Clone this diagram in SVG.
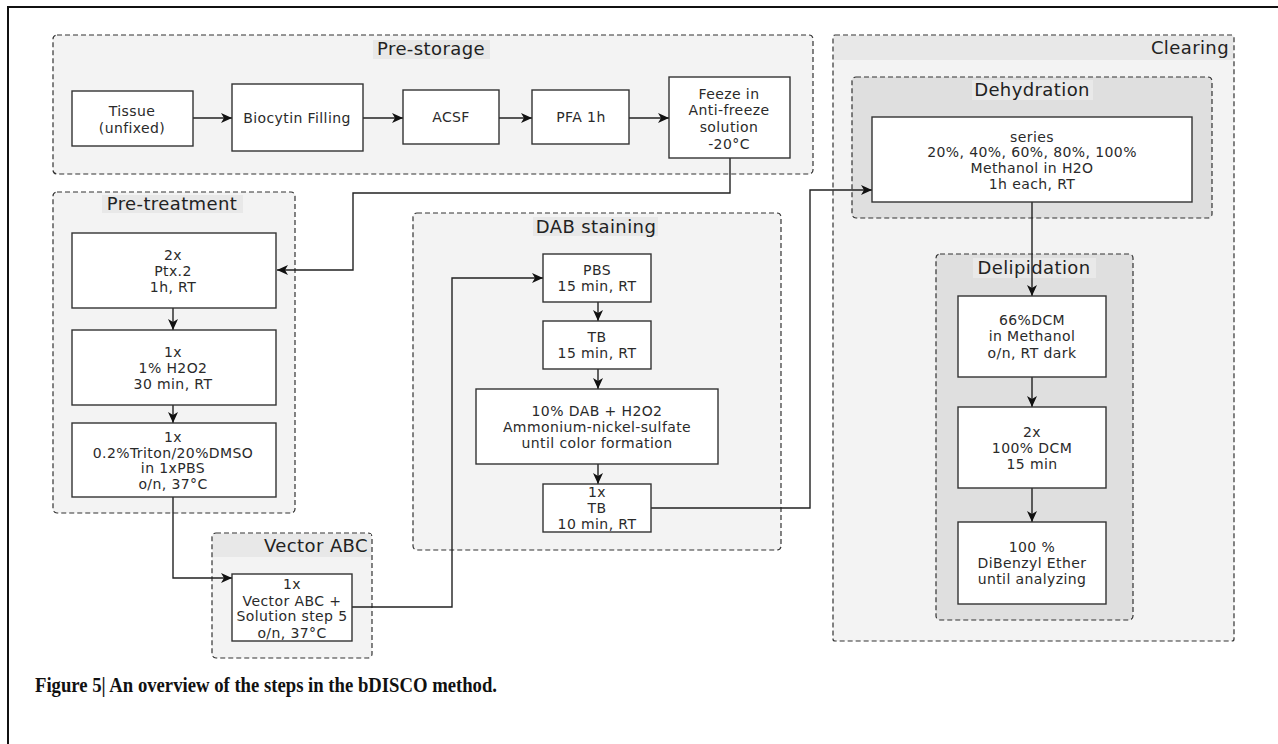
<svg xmlns="http://www.w3.org/2000/svg" width="1278" height="744" viewBox="0 0 1278 744">
<style>
.grp{fill:#f3f3f3;stroke:#333;stroke-width:1.2;stroke-dasharray:5 3}
.grp2{fill:#dfdfdf;stroke:#333;stroke-width:1.2;stroke-dasharray:5 3}
.band{fill:#e8e8e8}
.band2{fill:#e9e9e9}
.node{fill:#fff;stroke:#333;stroke-width:1.4}
.t{font-family:"DejaVu Sans",Verdana,sans-serif;font-size:14px;letter-spacing:0.4px;fill:#2a2a2a;text-anchor:middle}
.h{font-family:"DejaVu Sans",Verdana,sans-serif;font-size:18px;letter-spacing:0.4px;fill:#222;text-anchor:middle}
.c{fill:none;stroke:#222;stroke-width:1.4}
</style>
<defs>
<marker id="ah" markerUnits="userSpaceOnUse" markerWidth="12" markerHeight="10" refX="11" refY="5" orient="auto">
<path d="M0,0 L11,5 L0,10 L3,5 z" fill="#111"/>
</marker>
</defs>
<rect width="1278" height="744" fill="#fff"/>
<path d="M8,744 V7 H1278" fill="none" stroke="#111" stroke-width="2"/>

<g id="pre-storage">
<rect class="grp" x="53" y="35" width="760" height="139" rx="4"/>
<rect class="band" x="373" y="40" width="117" height="19"/>
<text class="h" x="431" y="55">Pre-storage</text>
</g>
<g id="pre-treatment">
<rect class="grp" x="53" y="192" width="242" height="321" rx="4"/>
<rect class="band" x="102" y="195" width="141" height="18"/>
<text class="h" x="172" y="210">Pre-treatment</text>
</g>
<g id="dab-staining">
<rect class="grp" x="413" y="213" width="368" height="337" rx="4"/>
<rect class="band" x="533" y="217" width="125" height="19"/>
<text class="h" x="596" y="233">DAB staining</text>
</g>
<g id="vector-abc">
<rect class="grp" x="212" y="533" width="160" height="125" rx="4"/>
<rect class="band" x="213" y="534" width="158" height="23"/>
<text class="h" x="368" y="552" style="text-anchor:end">Vector ABC</text>
</g>
<g id="clearing">
<rect class="grp" x="833" y="35" width="401" height="606" rx="2"/>
<rect class="band" x="834" y="36" width="399" height="24"/>
<text class="h" x="1229" y="54" style="text-anchor:end">Clearing</text>
</g>
<g id="dehydration">
<rect class="grp2" x="852" y="77" width="360" height="141" rx="4"/>
<rect class="band2" x="972" y="80" width="121" height="20"/>
<text class="h" x="1032" y="96">Dehydration</text>
</g>
<g id="delipidation">
<rect class="grp2" x="936" y="254" width="197" height="366" rx="4"/>
<rect class="band2" x="973" y="258" width="123" height="20"/>
<text class="h" x="1034" y="274">Delipidation</text>
</g>

<g id="connectors">
<path class="c" d="M193,118 H232" marker-end="url(#ah)"/>
<path class="c" d="M363,118 H403" marker-end="url(#ah)"/>
<path class="c" d="M499,118 H532" marker-end="url(#ah)"/>
<path class="c" d="M629,118 H669" marker-end="url(#ah)"/>
<path class="c" d="M730,158 V193 H353 V270 H277" marker-end="url(#ah)"/>
<path class="c" d="M173,308 V330" marker-end="url(#ah)"/>
<path class="c" d="M173,405 V423" marker-end="url(#ah)"/>
<path class="c" d="M173,497 V578 H232" marker-end="url(#ah)"/>
<path class="c" d="M352,607 H452 V278 H543" marker-end="url(#ah)"/>
<path class="c" d="M598,302 V321" marker-end="url(#ah)"/>
<path class="c" d="M598,369 V389" marker-end="url(#ah)"/>
<path class="c" d="M598,464 V484" marker-end="url(#ah)"/>
<path class="c" d="M651,508 H810 V190 H872" marker-end="url(#ah)"/>
<path class="c" d="M1032,202 V296" marker-end="url(#ah)"/>
<path class="c" d="M1032,377 V407" marker-end="url(#ah)"/>
<path class="c" d="M1032,488 V522" marker-end="url(#ah)"/>
</g>

<g id="tissue">
<rect class="node" x="72" y="91" width="121" height="55"/>
<text class="t" x="132" y="116">Tissue</text>
<text class="t" x="132" y="133">(unfixed)</text>
</g>
<g id="biocytin">
<rect class="node" x="232" y="84" width="131" height="67"/>
<text class="t" x="297" y="123">Biocytin Filling</text>
</g>
<g id="acsf">
<rect class="node" x="403" y="90" width="96" height="54"/>
<text class="t" x="451" y="122">ACSF</text>
</g>
<g id="pfa">
<rect class="node" x="532" y="90" width="97" height="54"/>
<text class="t" x="581" y="122">PFA 1h</text>
</g>
<g id="freeze">
<rect class="node" x="669" y="77" width="121" height="81"/>
<text class="t" x="729" y="99">Feeze in</text>
<text class="t" x="729" y="115">Anti-freeze</text>
<text class="t" x="729" y="132">solution</text>
<text class="t" x="729" y="149">-20°C</text>
</g>

<g id="ptx">
<rect class="node" x="72" y="233" width="204" height="75"/>
<text class="t" x="173" y="260">2x</text>
<text class="t" x="173" y="276">Ptx.2</text>
<text class="t" x="173" y="292">1h, RT</text>
</g>
<g id="h2o2">
<rect class="node" x="72" y="330" width="204" height="75"/>
<text class="t" x="173" y="357">1x</text>
<text class="t" x="173" y="373">1% H2O2</text>
<text class="t" x="173" y="389">30 min, RT</text>
</g>
<g id="triton">
<rect class="node" x="72" y="423" width="204" height="74"/>
<text class="t" x="173" y="442">1x</text>
<text class="t" x="173" y="458">0.2%Triton/20%DMSO</text>
<text class="t" x="173" y="473">in 1xPBS</text>
<text class="t" x="173" y="489">o/n, 37°C</text>
</g>

<g id="vabc">
<rect class="node" x="232" y="574" width="120" height="67"/>
<text class="t" x="292" y="589">1x</text>
<text class="t" x="292" y="606">Vector ABC +</text>
<text class="t" x="292" y="621">Solution step 5</text>
<text class="t" x="292" y="638">o/n, 37°C</text>
</g>

<g id="pbs">
<rect class="node" x="543" y="254" width="108" height="48"/>
<text class="t" x="597" y="275">PBS</text>
<text class="t" x="597" y="291">15 min, RT</text>
</g>
<g id="tb">
<rect class="node" x="543" y="321" width="108" height="48"/>
<text class="t" x="597" y="342">TB</text>
<text class="t" x="597" y="358">15 min, RT</text>
</g>
<g id="dab">
<rect class="node" x="476" y="389" width="242" height="75"/>
<text class="t" x="597" y="416">10% DAB + H2O2</text>
<text class="t" x="597" y="432">Ammonium-nickel-sulfate</text>
<text class="t" x="597" y="448">until color formation</text>
</g>
<g id="tb2">
<rect class="node" x="543" y="484" width="108" height="48"/>
<text class="t" x="597" y="497">1x</text>
<text class="t" x="597" y="513">TB</text>
<text class="t" x="597" y="529">10 min, RT</text>
</g>

<g id="methanol">
<rect class="node" x="872" y="117" width="320" height="85"/>
<text class="t" x="1032" y="142">series</text>
<text class="t" x="1032" y="157">20%, 40%, 60%, 80%, 100%</text>
<text class="t" x="1032" y="173">Methanol in H2O</text>
<text class="t" x="1032" y="189">1h each, RT</text>
</g>
<g id="dcm66">
<rect class="node" x="958" y="296" width="148" height="81"/>
<text class="t" x="1032" y="325">66%DCM</text>
<text class="t" x="1032" y="341">in Methanol</text>
<text class="t" x="1032" y="358">o/n, RT dark</text>
</g>
<g id="dcm100">
<rect class="node" x="958" y="407" width="148" height="81"/>
<text class="t" x="1032" y="437">2x</text>
<text class="t" x="1032" y="453">100% DCM</text>
<text class="t" x="1032" y="469">15 min</text>
</g>
<g id="dbe">
<rect class="node" x="958" y="522" width="148" height="82"/>
<text class="t" x="1032" y="552">100 %</text>
<text class="t" x="1032" y="568">DiBenzyl Ether</text>
<text class="t" x="1032" y="584">until analyzing</text>
</g>

<text x="35" y="692" font-family="'Liberation Serif',serif" font-weight="bold" font-size="20" fill="#111" textLength="462" lengthAdjust="spacingAndGlyphs">Figure 5| An overview of the steps in the bDISCO method.</text>
</svg>
